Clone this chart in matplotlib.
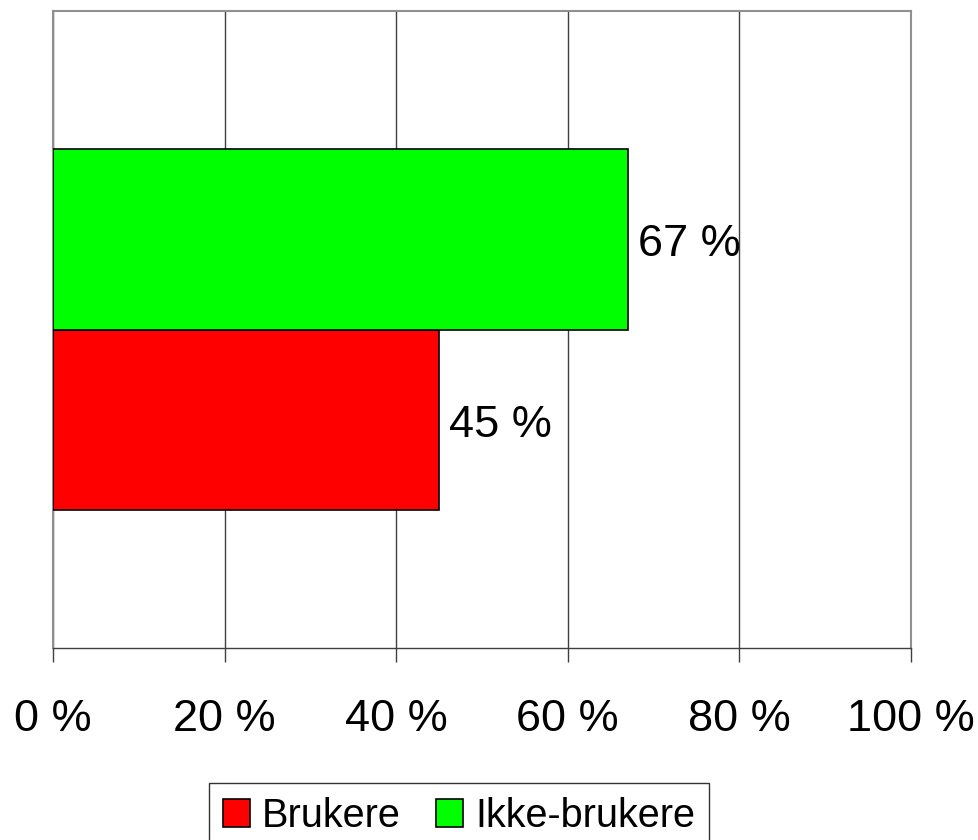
import matplotlib.pyplot as plt

plt.rcParams['font.family'] = ['Liberation Sans', 'DejaVu Sans']

series = ["Brukere", "Ikke-brukere"]
values = [45, 67]
colors = ["#ff0000", "#00ff00"]
xticks = [0, 20, 40, 60, 80, 100]
xtick_labels = ["0 %", "20 %", "40 %", "60 %", "80 %", "100 %"]

fig = plt.figure(figsize=(9.79, 8.4), dpi=100)
ax = fig.add_axes([53 / 979, 1 - 648 / 840, (911 - 53) / 979, (648 - 11) / 840])

h = 0.284
offsets = [-h / 2, h / 2]
for name, v, c, off in zip(series, values, colors, offsets):
    ax.barh(off, v, height=h, color=c, edgecolor="black", linewidth=1.2, label=name, zorder=3)
    ax.annotate(f"{v} %", xy=(v, off), xytext=(7, -4), textcoords="offset points",
                va="center", ha="left", fontsize=32.5, zorder=4)

ax.set_xlim(0, 100)
ax.set_ylim(-0.5, 0.5)
ax.set_xticks(xticks)
ax.set_xticklabels(xtick_labels, fontsize=32.5)
ax.set_yticks([])
ax.tick_params(axis="x", length=10, width=1, color="#404040", pad=27)
ax.grid(axis="x", color="#404040", linewidth=1, zorder=0)

for side in ["top", "right", "left"]:
    ax.spines[side].set_color("#909090")
    ax.spines[side].set_linewidth(1.5)
ax.spines["bottom"].set_color("#404040")
ax.spines["bottom"].set_linewidth(1)

leg = fig.legend(loc="upper center", bbox_to_anchor=(459 / 979, 1 - 783 / 840), ncol=2,
                 fontsize=28.5, frameon=True, fancybox=False, edgecolor="black",
                 handlelength=0.68, handleheight=0.68, handletextpad=0.3, columnspacing=0.9,
                 borderpad=0.35, borderaxespad=0)
leg.get_frame().set_linewidth(1)

fig.savefig("out.png", dpi=100)
